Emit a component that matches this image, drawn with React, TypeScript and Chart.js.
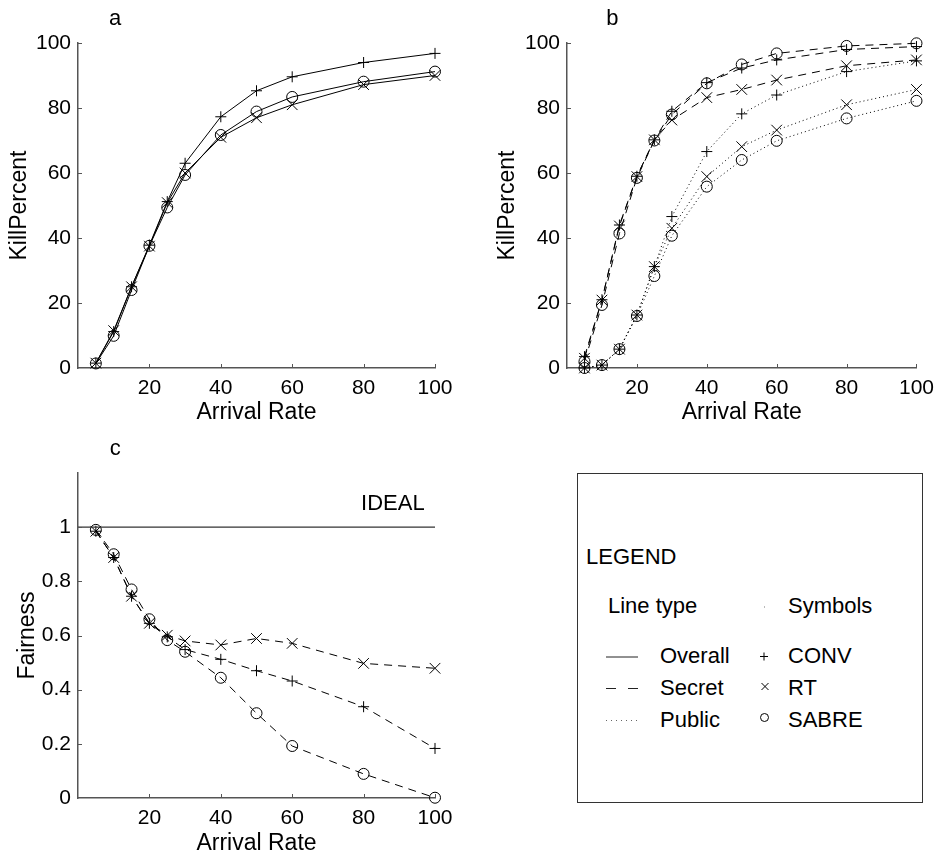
import React, { useEffect, useRef } from "react";
import { Chart, registerables } from "chart.js";

Chart.register(...registerables);

// ---------- data ----------
const arrivalRates = [5, 10, 15, 20, 25, 30, 40, 50, 60, 80, 100];

// panel a: Overall kill percent
const overallConv = [1.5, 11.2, 25, 37.8, 51.2, 63, 77.3, 85.3, 89.6, 94, 96.8];
const overallRt = [1.5, 11.5, 25, 37.5, 50.9, 60, 71, 77, 81, 87.2, 90];
const overallSabre = [1.4, 9.9, 24, 37.6, 49.4, 59.4, 71.7, 78.9, 83.4, 88.1, 91.2];

// panel b: Secret / Public kill percent
const secretConv = [3.5, 21, 44, 59, 70.2, 79, 87.8, 92.3, 94.8, 98, 98.9];
const secretRt = [3, 20.9, 43.7, 58.9, 70.2, 76.3, 83.2, 85.7, 88.6, 93, 94.8];
const secretSabre = [2, 19.4, 41.4, 58.5, 70, 78, 87.6, 93.4, 96.8, 99.1, 99.9];
const publicConv = [0, 0.9, 5.8, 16.3, 31.2, 46.6, 66.6, 78.2, 84, 91.2, 94.5];
const publicRt = [0, 0.9, 5.8, 16.3, 31.2, 43, 58.9, 68.1, 73.2, 81, 85.7];
const publicSabre = [0, 0.9, 5.8, 16, 28.3, 40.7, 55.8, 64, 69.9, 76.8, 82.2];

// panel c: Fairness
const fairConv = [0.985, 0.888, 0.745, 0.645, 0.595, 0.548, 0.512, 0.47, 0.432, 0.337, 0.183];
const fairRt = [0.985, 0.888, 0.745, 0.645, 0.601, 0.58, 0.565, 0.589, 0.571, 0.497, 0.479];
const fairSabre = [0.99, 0.9, 0.77, 0.66, 0.583, 0.54, 0.444, 0.313, 0.192, 0.089, 0.001];
const idealX = [0, 100];
const idealY = [1, 1];

const xTickValues = [20, 40, 60, 80, 100];
const killTicks = [0, 20, 40, 60, 80, 100];
const fairTicks = [0, 0.2, 0.4, 0.6, 0.8, 1];

// ---------- styling ----------
const FONT = "'Liberation Sans', Arial, Helvetica, sans-serif";
const AXIS_COLOR = "#555";
const TICK_SIZE = 21;
const TITLE_SIZE = 23;
const DASH = [8, 6];
const DOT = [1, 3];

const toPoints = (xs: number[], ys: number[]) => xs.map((x, i) => ({ x, y: ys[i] }));
const fmt = (v: number) => String(Number(Number(v).toFixed(3)));

const symbolStyle: Record<string, { pointStyle: string; pointRadius: number }> = {
  conv: { pointStyle: "cross", pointRadius: 5.5 },
  rt: { pointStyle: "crossRot", pointRadius: 7.5 },
  sabre: { pointStyle: "circle", pointRadius: 5.5 },
};

function series(values: number[], sym: string, dash: number[]) {
  const s = symbolStyle[sym];
  return {
    data: toPoints(arrivalRates, values),
    borderColor: "#000",
    borderWidth: 1,
    borderDash: dash,
    pointStyle: s.pointStyle,
    pointRadius: s.pointRadius,
    pointBorderColor: "#000",
    pointBackgroundColor: "rgba(0,0,0,0)",
    pointBorderWidth: 1,
    tension: 0,
    clip: false as any,
  };
}

const overlayPlugin = {
  id: "overlay",
  afterDraw(chart: any, _args: any, opts: any) {
    const { ctx } = chart;
    const x = chart.scales.x;
    const y = chart.scales.y;
    ctx.save();
    ctx.strokeStyle = AXIS_COLOR;
    ctx.lineWidth = 1;
    x.ticks.forEach((t: any) => {
      if (t.value <= x.min) return;
      const px = Math.round(x.getPixelForValue(t.value)) + 0.5;
      ctx.beginPath();
      ctx.moveTo(px, y.bottom);
      ctx.lineTo(px, y.bottom - 4);
      ctx.stroke();
    });
    y.ticks.forEach((t: any) => {
      if (t.value <= y.min) return;
      const py = Math.round(y.getPixelForValue(t.value)) + 0.5;
      ctx.beginPath();
      ctx.moveTo(x.left, py);
      ctx.lineTo(x.left + 4, py);
      ctx.stroke();
    });
    ctx.fillStyle = "#000";
    ctx.textBaseline = "alphabetic";
    ctx.textAlign = "left";
    (opts.texts || []).forEach((it: any) => {
      ctx.font = `${it.size || 22}px ${FONT}`;
      ctx.fillText(it.text, x.getPixelForValue(it.x), y.getPixelForValue(it.y));
    });
    ctx.restore();
  },
};

interface PanelCfg {
  datasets: any[];
  yMax: number;
  yTicks: number[];
  yTitle: string;
  yWidth: number;
  yTitlePad: number;
  xTitlePad: number;
  padRight: number;
  xHeight: number;
  texts: any[];
}

function buildConfig(p: PanelCfg): any {
  return {
    type: "line",
    data: { datasets: p.datasets },
    plugins: [overlayPlugin],
    options: {
      animation: false,
      responsive: false,
      layout: { padding: { top: 43, right: p.padRight, left: 0, bottom: 0 } },
      plugins: {
        legend: { display: false },
        tooltip: { enabled: false },
        overlay: { texts: p.texts },
      },
      scales: {
        x: {
          type: "linear",
          min: 0,
          max: 100,
          afterBuildTicks: (s: any) => {
            s.ticks = [0, ...xTickValues].map((v) => ({ value: v }));
          },
          ticks: {
            callback: (v: number) => (v === 0 ? "" : fmt(v)),
            font: { family: FONT, size: TICK_SIZE },
            color: "#000",
            padding: 8,
            maxRotation: 0,
            autoSkip: false,
          },
          grid: { display: false, drawTicks: false },
          border: { display: true, color: AXIS_COLOR, width: 1.5 },
          title: {
            display: true,
            text: "Arrival Rate",
            color: "#000",
            font: { family: FONT, size: TITLE_SIZE },
            padding: { top: 0, bottom: p.xTitlePad },
          },
          afterFit: (s: any) => {
            s.height = p.xHeight;
          },
        },
        y: {
          type: "linear",
          min: 0,
          max: p.yMax,
          afterBuildTicks: (s: any) => {
            s.ticks = p.yTicks.map((v) => ({ value: v }));
          },
          ticks: {
            callback: (v: number) => fmt(v),
            font: { family: FONT, size: TICK_SIZE },
            color: "#000",
            padding: 7,
            autoSkip: false,
          },
          grid: { display: false, drawTicks: false },
          border: { display: true, color: AXIS_COLOR, width: 1.5 },
          title: {
            display: true,
            text: p.yTitle,
            color: "#000",
            font: { family: FONT, size: TITLE_SIZE },
            padding: { top: p.yTitlePad, bottom: 0 },
          },
          afterFit: (s: any) => {
            s.width = p.yWidth;
          },
        },
      },
    },
  };
}

function Panel({ cfg, left, top, width, height }: { cfg: PanelCfg; left: number; top: number; width: number; height: number }) {
  const ref = useRef<HTMLCanvasElement | null>(null);
  useEffect(() => {
    if (!ref.current) return;
    const chart = new Chart(ref.current, buildConfig(cfg));
    return () => chart.destroy();
  }, []);
  return (
    <canvas
      ref={ref}
      width={width}
      height={height}
      style={{ position: "absolute", left, top, width, height }}
    />
  );
}

const panelA: PanelCfg = {
  datasets: [
    series(overallConv, "conv", []),
    series(overallRt, "rt", []),
    series(overallSabre, "sabre", []),
  ],
  yMax: 100,
  yTicks: killTicks,
  yTitle: "KillPercent",
  yWidth: 78,
  yTitlePad: 6,
  xTitlePad: 3.5,
  padRight: 35,
  xHeight: 62,
  texts: [{ text: "a", x: 8.7, y: 105.5 }],
};

const panelB: PanelCfg = {
  datasets: [
    series(secretConv, "conv", DASH),
    series(secretRt, "rt", DASH),
    series(secretSabre, "sabre", DASH),
    series(publicConv, "conv", DOT),
    series(publicRt, "rt", DOT),
    series(publicSabre, "sabre", DOT),
  ],
  yMax: 100,
  yTicks: killTicks,
  yTitle: "KillPercent",
  yWidth: 97,
  yTitlePad: 24,
  xTitlePad: 3.5,
  padRight: 19,
  xHeight: 62,
  texts: [{ text: "b", x: 11.2, y: 105.5 }],
};

const panelC: PanelCfg = {
  datasets: [
    {
      data: toPoints(idealX, idealY),
      borderColor: "#333",
      borderWidth: 1.2,
      pointRadius: 0,
      tension: 0,
    },
    series(fairConv, "conv", DASH),
    series(fairRt, "rt", DASH),
    series(fairSabre, "sabre", DASH),
  ],
  yMax: 1.2,
  yTicks: fairTicks,
  yTitle: "Fairness",
  yWidth: 78,
  yTitlePad: 14,
  xTitlePad: 0.5,
  padRight: 35,
  xHeight: 60,
  texts: [
    { text: "c", x: 8.9, y: 1.266 },
    { text: "IDEAL", x: 79.3, y: 1.063 },
  ],
};

const lt = (baseline: number, size = 22) => baseline - 0.8467 * size;

function Legend() {
  const L = 577;
  const T = 473;
  const txt = (text: string, left: number, baseline: number) => (
    <span
      style={{
        position: "absolute",
        left: left - L,
        top: lt(baseline) - T,
        fontFamily: FONT,
        fontSize: 22,
        lineHeight: "22px",
        whiteSpace: "nowrap",
        color: "#000",
      }}
    >
      {text}
    </span>
  );
  return (
    <div
      style={{
        position: "absolute",
        left: L,
        top: T,
        width: 923 - L,
        height: 803 - T,
        border: "1px solid #333",
        boxSizing: "border-box",
        background: "#fff",
      }}
    >
      <svg
        width={923 - L}
        height={803 - T}
        style={{ position: "absolute", left: -1, top: -1 }}
      >
        <g transform={`translate(${-L} ${-T})`} stroke="#000" fill="none" strokeWidth={1}>
          <line x1={606} y1={657} x2={638} y2={657} stroke="#222" />
          <line x1={606} y1={688.5} x2={638} y2={688.5} strokeDasharray="10 12" stroke="#222" />
          <line x1={606} y1={720.5} x2={638} y2={720.5} strokeDasharray="1 4" stroke="#666" />
          <rect x={764} y={606.5} width={1} height={1} fill="#777" stroke="none" />
          <line x1={760} y1={656.5} x2={768} y2={656.5} />
          <line x1={764} y1={652.5} x2={764} y2={660.5} />
          <line x1={761.5} y1={683} x2={768.5} y2={690} />
          <line x1={761.5} y1={690} x2={768.5} y2={683} />
          <circle cx={764.5} cy={717.5} r={4} />
        </g>
      </svg>
      {txt("LEGEND", 585, 564)}
      {txt("Line type", 607, 613)}
      {txt("Symbols", 787, 613)}
      {txt("Overall", 659, 663)}
      {txt("CONV", 787, 663)}
      {txt("Secret", 659, 695)}
      {txt("RT", 787, 695)}
      {txt("Public", 659, 727)}
      {txt("SABRE", 787, 727)}
    </div>
  );
}

export default function App() {
  return (
    <div
      style={{
        position: "absolute",
        left: 0,
        top: 0,
        width: 942,
        height: 858,
        background: "#fff",
        overflow: "hidden",
      }}
    >
      <Panel cfg={panelA} left={0} top={0} width={470} height={430} />
      <Panel cfg={panelB} left={470} top={0} width={472} height={430} />
      <Panel cfg={panelC} left={0} top={430} width={470} height={428} />
      <Legend />
    </div>
  );
}
